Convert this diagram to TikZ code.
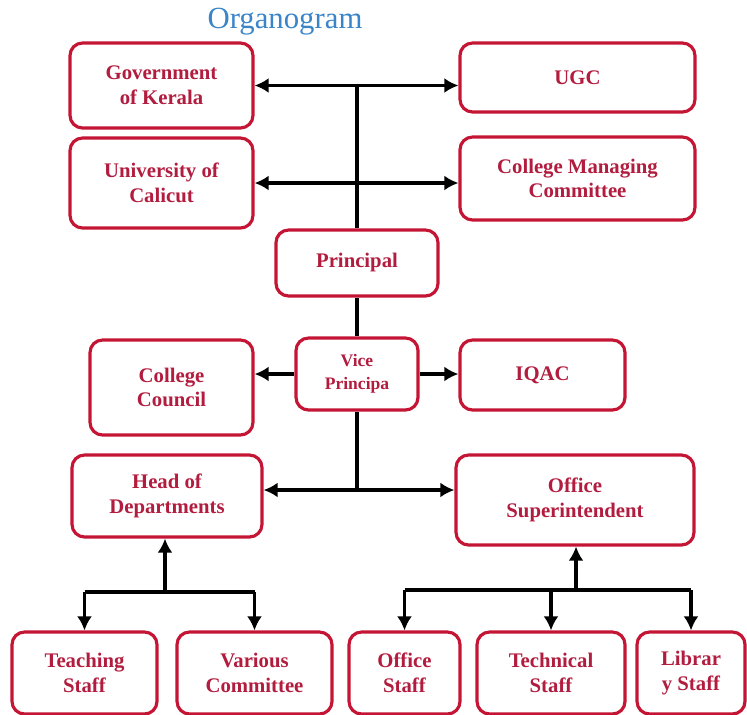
\documentclass[tikz,border=0pt]{standalone}
\usepackage{fontspec}
\setmainfont{Liberation Serif}
\usepackage{tikz}
\usetikzlibrary{arrows.meta,positioning,calc}
\definecolor{boxred}{RGB}{196,22,52}
\definecolor{textred}{RGB}{178,28,62}
\definecolor{titleblue}{RGB}{58,132,200}
\tikzstyle{box} = [draw=boxred,line width=1.8pt,rounded corners=0.25cm,
                   align=center,text=textred,font=\fontsize{11.8}{14}\selectfont\bfseries]
\tikzstyle{link} = [line width=2.1pt]
\tikzstyle{onearrow} = [-{Latex[length=8pt,width=8.5pt]},line width=2.1pt]
\tikzstyle{biarrow} = [{Latex[length=8pt,width=8.5pt]}-{Latex[length=8pt,width=8.5pt]},line width=2.1pt]

\begin{document}
\begin{tikzpicture}[x=0.02cm,y=-0.02cm]
    \useasboundingbox (0,0) rectangle (747,714);
    \node[text=titleblue,font=\fontsize{17.5}{20}\selectfont] (title) at (285,22) {Organogram};

    % top layer
    \node[box,minimum width=3.66cm,minimum height=1.70cm] (gov) at (161.5,85.5) {Government\\of Kerala};
    \node[box,minimum width=4.70cm,minimum height=1.38cm] (ugc) at (577.5,77.5) {UGC};
    \node[box,minimum width=3.66cm,minimum height=1.80cm] (uoc) at (161.5,183) {University of\\Calicut};
    \node[box,minimum width=4.70cm,minimum height=1.66cm] (cmc) at (577.5,178.5) {College Managing\\Committee};

    % principal and vice principal
    \node[box,minimum width=3.24cm,minimum height=1.32cm] (prin) at (357,263) {Principal};
    \node[box,minimum width=2.44cm,minimum height=1.44cm,
          font=\fontsize{10}{13}\selectfont\bfseries] (vice) at (357,374) {Vice\\Principa};
    \node[box,minimum width=3.26cm,minimum height=1.90cm] (council) at (171.5,387.5) {College\\Council};
    \node[box,minimum width=3.30cm,minimum height=1.40cm] (iqac) at (542.5,375) {IQAC};

    % second layer
    \node[box,minimum width=3.80cm,minimum height=1.64cm] (hod) at (167,496) {Head of\\Departments};
    \node[box,minimum width=4.76cm,minimum height=1.80cm] (osup) at (575,500) {Office\\Superintendent};

    % staff row
    \node[box,minimum width=2.90cm,minimum height=1.64cm] (teach) at (84.5,673) {Teaching\\Staff};
    \node[box,minimum width=3.10cm,minimum height=1.64cm] (vari) at (254.5,673) {Various\\Committee};
    \node[box,minimum width=2.22cm,minimum height=1.64cm] (ostaff) at (404.5,673) {Office\\Staff};
    \node[box,minimum width=2.96cm,minimum height=1.64cm] (tech) at (551,673) {Technical\\Staff};
    \node[box,minimum width=2.16cm,minimum height=1.64cm] (lib) at (691,673) {Librar\\y Staff};

    % junctions
    \coordinate (top) at (prin.north |- gov.east);
    \coordinate (mid) at (357,490);
    \coordinate (hbar) at (165,592);
    \coordinate (obar) at (576,590);

    % connectors
    \draw[biarrow] (gov.east) -- (ugc.west |- gov.east);
    \draw[biarrow] (uoc.east) -- (cmc.west |- uoc.east);
    \draw[link] (top) -- (prin.north);
    \draw[link] (prin.south) -- (vice.north);
    \draw[onearrow] (vice.west) -- (council.east |- vice.west);
    \draw[onearrow] (vice.east) -- (iqac.west |- vice.east);
    \draw[link] (vice.south) -- (mid);
    \draw[biarrow] (hod.east |- mid) -- (osup.west |- mid);

    \draw[onearrow] (hbar) -- (hbar |- hod.south);
    \draw[link] (teach.north |- hbar) -- (vari.north |- hbar);
    \draw[onearrow] (teach.north |- hbar) -- (teach.north);
    \draw[onearrow] (vari.north |- hbar) -- (vari.north);

    \draw[onearrow] (obar) -- (obar |- osup.south);
    \draw[link] (ostaff.north |- obar) -- (lib.north |- obar);
    \draw[onearrow] (ostaff.north |- obar) -- (ostaff.north);
    \draw[onearrow] (tech.north |- obar) -- (tech.north);
    \draw[onearrow] (lib.north |- obar) -- (lib.north);
\end{tikzpicture}
\end{document}
